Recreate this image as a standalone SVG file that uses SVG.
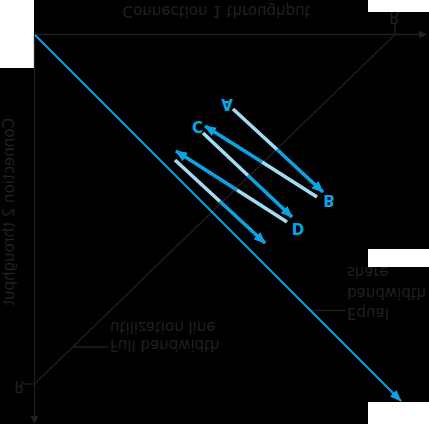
<svg xmlns="http://www.w3.org/2000/svg" width="429" height="424" viewBox="0 0 429 424">
<defs>
<style>
.ax{stroke:#231f20;stroke-width:1.3;fill:none}
.txt{font-family:"DejaVu Sans",sans-serif;font-size:15px;fill:#231f20}
.lbl{font-family:"DejaVu Sans",sans-serif;font-size:15px;font-weight:bold;fill:#0aa4e6}
.blue{stroke:#0aa4e6;stroke-width:3.6;fill:none}
.pale{stroke:#a3dbf5;stroke-width:3.6;fill:none}
</style>
<marker id="ah" markerUnits="userSpaceOnUse" viewBox="0 0 12 10" markerWidth="12" markerHeight="10" refX="11" refY="5" orient="auto">
<path d="M0,0 L12,5 L0,10 z" fill="#0aa4e6"/>
</marker>
<marker id="ahs" markerUnits="userSpaceOnUse" viewBox="0 0 12 9" markerWidth="12" markerHeight="9" refX="11" refY="4.5" orient="auto">
<path d="M0,0 L12,4.5 L0,9 z" fill="#0aa4e6"/>
</marker>
</defs>
<rect x="0" y="0" width="429" height="424" fill="#000"/>
<rect x="0" y="0" width="34" height="68" fill="#fff"/>
<rect x="368" y="0" width="61" height="12" fill="#fff"/>
<rect x="368" y="249" width="61" height="18" fill="#fff"/>
<rect x="368" y="402" width="61" height="22" fill="#fff"/>
<g id="axes">
<line class="ax" x1="34.5" y1="34.5" x2="421" y2="34.5"/>
<polygon points="427,34.5 419,30.5 419,38.5" fill="#231f20"/>
<line class="ax" x1="34.5" y1="34.5" x2="34.5" y2="417"/>
<polygon points="34.5,424 30.5,416 38.5,416" fill="#231f20"/>
<line class="ax" x1="34.5" y1="384" x2="395" y2="34.5"/>
<line class="ax" x1="24" y1="384" x2="34.5" y2="384"/>
<line class="ax" x1="395" y1="23" x2="395" y2="34.5"/>
<line class="ax" x1="73" y1="347" x2="108" y2="347"/>
<line class="ax" x1="312" y1="310.5" x2="345" y2="310.5"/>
</g>
<g id="labels">
<text class="txt" text-anchor="middle" transform="translate(216.5,6) scale(1,-1)">Connection 1 throughput</text>
<text class="txt" text-anchor="middle" transform="matrix(0,1,1,0,14,212)">Connection 2 throughput</text>
<text class="txt" text-anchor="middle" transform="translate(394.5,12) scale(1,-1)">R</text>
<text class="txt" text-anchor="middle" transform="translate(19.5,380.5) scale(1,-1)">R</text>
<text class="txt" transform="translate(110,340) scale(1,-1)">Full bandwidth</text>
<text class="txt" transform="translate(110,322) scale(1,-1)">utilization line</text>
<text class="txt" transform="translate(347,308) scale(1,-1)">Equal</text>
<text class="txt" transform="translate(347,287.5) scale(1,-1)">bandwidth</text>
<text class="txt" transform="translate(347,267) scale(1,-1)">share</text>
</g>
<g id="equal-share">
<line stroke="#0aa4e6" stroke-width="2" x1="35" y1="35" x2="401" y2="401" marker-end="url(#ahs)"/>
</g>
<g id="connectors">
<line class="pale" x1="233" y1="109" x2="277" y2="149.5"/>
<line class="blue" x1="277" y1="149.5" x2="323" y2="192" marker-end="url(#ah)"/>
<line class="pale" x1="317" y1="197" x2="262" y2="162"/>
<line class="blue" x1="262" y1="162" x2="205" y2="126" marker-end="url(#ah)"/>
<line class="pale" x1="203" y1="133" x2="248" y2="175.5"/>
<line class="blue" x1="248" y1="175.5" x2="292" y2="217" marker-end="url(#ah)"/>
<line class="pale" x1="287" y1="222" x2="237" y2="190"/>
<line class="blue" x1="237" y1="190" x2="176" y2="151" marker-end="url(#ah)"/>
<line class="pale" x1="175" y1="160" x2="220" y2="201.5"/>
<line class="blue" x1="220" y1="201.5" x2="265" y2="243" marker-end="url(#ah)"/>
</g>
<g id="point-A"><text class="lbl" text-anchor="middle" transform="translate(227,99) scale(1,-1)">A</text></g>
<g id="point-B"><text class="lbl" text-anchor="middle" transform="translate(329,195) scale(1,-1)">B</text></g>
<g id="point-C"><text class="lbl" text-anchor="middle" transform="translate(197.5,121) scale(1,-1)">C</text></g>
<g id="point-D"><text class="lbl" text-anchor="middle" transform="translate(298,222.5) scale(1,-1)">D</text></g>
</svg>
